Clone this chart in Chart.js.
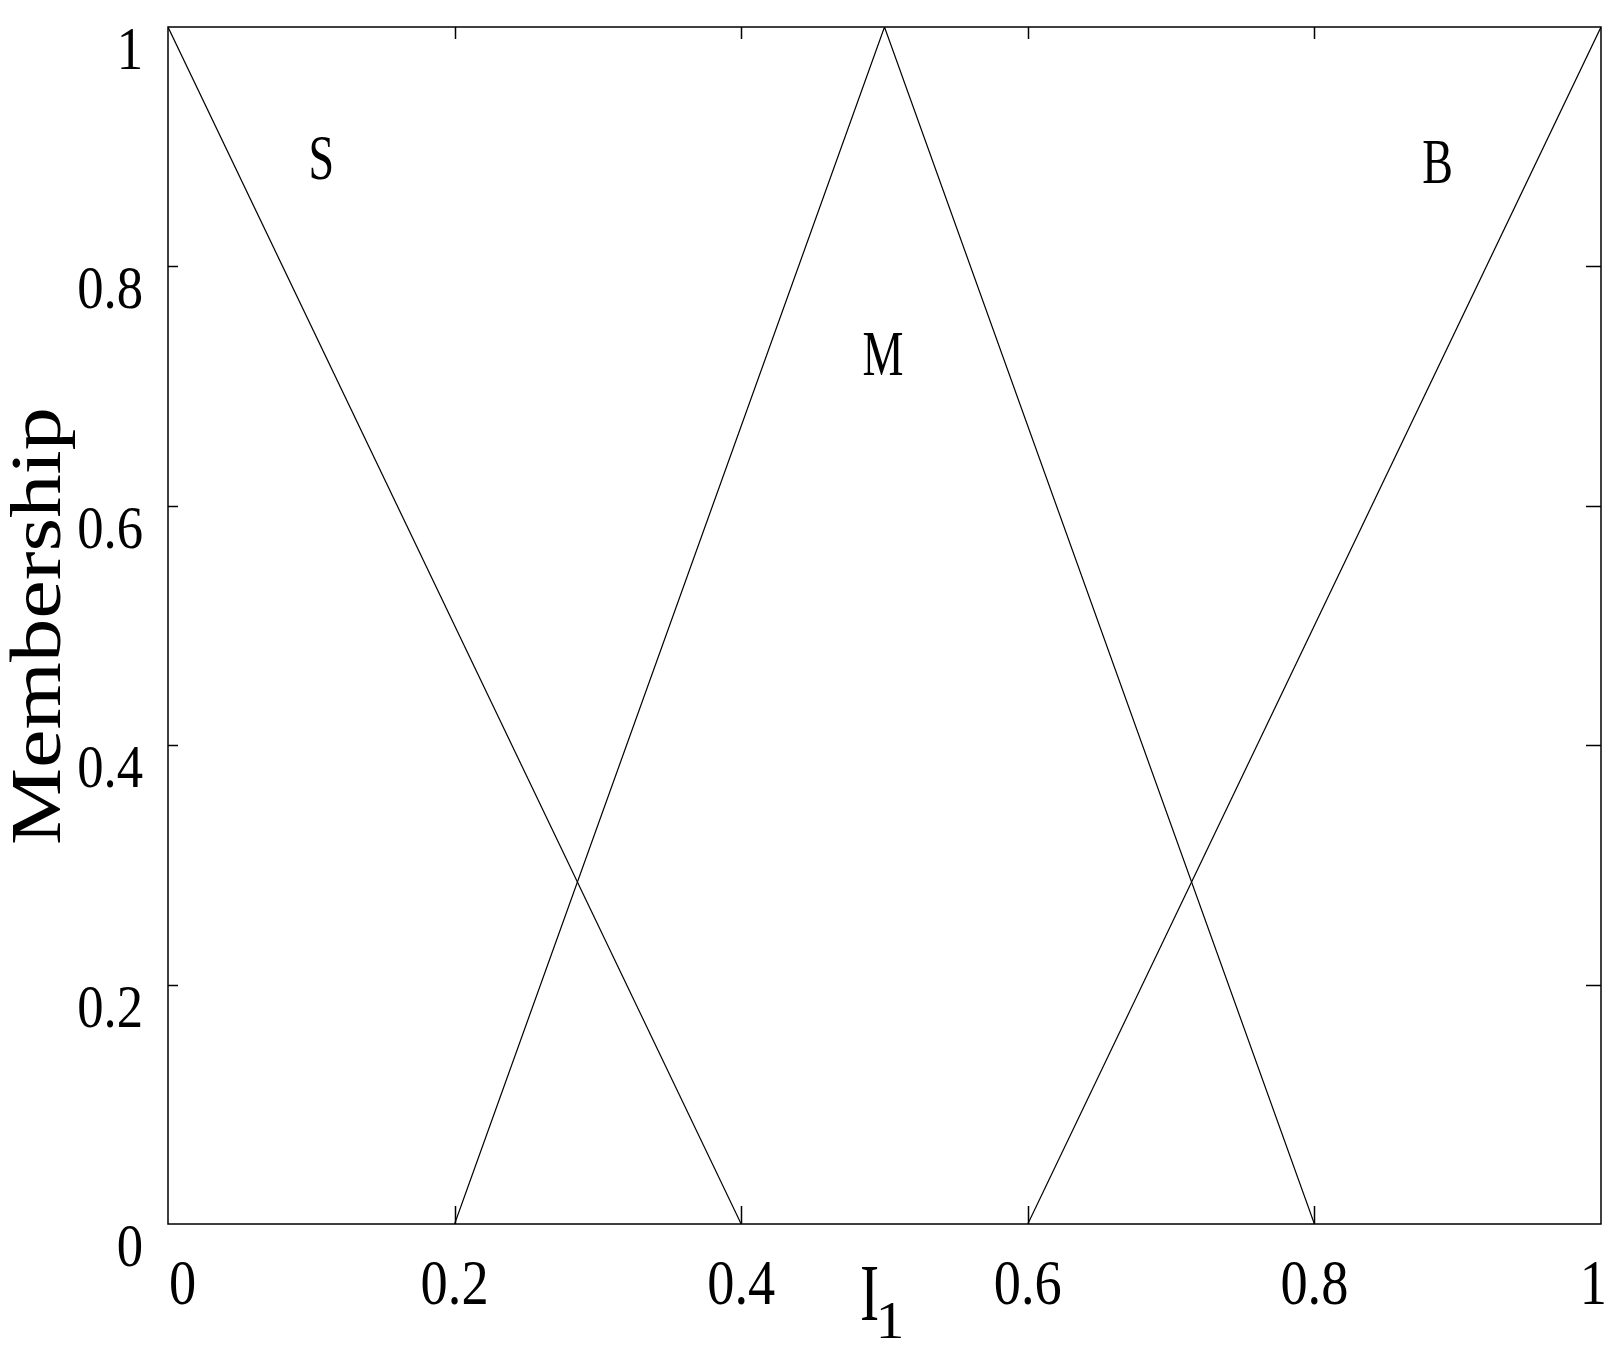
<!DOCTYPE html>
<html>
<head>
<meta charset="utf-8">
<script src="https://cdn.jsdelivr.net/npm/chart.js@4.4.1/dist/chart.umd.min.js"></script>
<style>
    html, body { margin: 0; padding: 0; background: #fff; }
    #grafico { display: block; }
</style>
</head>
<body>
<canvas id="grafico" width="1618" height="1361"></canvas>
<script>
var xTicks = [0, 0.2, 0.4, 0.6, 0.8, 1];
var yTicks = [0, 0.2, 0.4, 0.6, 0.8, 1];
var xTickLabels = ['0', '0.2', '0.4', '0.6', '0.8', '1'];
var yTickLabels = ['0', '0.2', '0.4', '0.6', '0.8', '1'];

// membership functions (triangles)
var smallX = [0, 0.4];
var smallY = [1, 0];
var mediumX = [0.2, 0.5, 0.8];
var mediumY = [0, 1, 0];
var bigX = [0.6, 1];
var bigY = [0, 1];

var setNames = ['S', 'M', 'B'];
var setNameX = [0.107, 0.499, 0.886];
var setNameY = [0.873, 0.709, 0.870];

var serif = '"Liberation Serif", "Times New Roman", serif';

function pontos(xs, ys) {
    var out = [];
    for (var i = 0; i < xs.length; i++) {
        out.push({ x: xs[i], y: ys[i] });
    }
    return out;
}

function serie(xs, ys) {
    return {
        data: pontos(xs, ys),
        showLine: true,
        borderColor: '#000',
        borderWidth: 1.2,
        pointRadius: 0,
        tension: 0,
        fill: false
    };
}

// text in the picture is condensed horizontally, so draw it with a scale
function texto(ctx, str, x, y, size, sx, align) {
    ctx.save();
    ctx.translate(x, y);
    ctx.scale(sx, 1);
    ctx.font = size + 'px ' + serif;
    ctx.fillStyle = '#000';
    ctx.textAlign = align;
    ctx.textBaseline = 'alphabetic';
    ctx.fillText(str, 0, 0);
    ctx.restore();
}

var molduraPlugin = {
    id: 'moldura',
    afterDatasetsDraw: function (chart) {
        var ctx = chart.ctx;
        var a = chart.chartArea;
        var xs = chart.scales.x;
        var ys = chart.scales.y;
        var i, px, py;

        // frame
        ctx.save();
        ctx.strokeStyle = '#000';
        ctx.lineWidth = 1.5;
        ctx.strokeRect(a.left, a.top, a.right - a.left, a.bottom - a.top);

        // inward ticks
        ctx.beginPath();
        for (i = 1; i < xTicks.length - 1; i++) {
            px = Math.round(xs.getPixelForValue(xTicks[i])) + 0.5;
            ctx.moveTo(px, a.bottom); ctx.lineTo(px, a.bottom - 18);
            ctx.moveTo(px, a.top); ctx.lineTo(px, a.top + 12);
        }
        for (i = 1; i < yTicks.length - 1; i++) {
            py = Math.round(ys.getPixelForValue(yTicks[i])) + 0.5;
            ctx.moveTo(a.left, py); ctx.lineTo(a.left + 10, py);
            ctx.moveTo(a.right, py); ctx.lineTo(a.right - 15, py);
        }
        ctx.stroke();
        ctx.restore();

        // x tick labels
        for (i = 0; i < xTicks.length; i++) {
            px = xs.getPixelForValue(xTicks[i]);
            if (i == 0) {
                texto(ctx, xTickLabels[i], a.left + 1, 1304, 64, 0.85, 'left');
            } else if (i == xTicks.length - 1) {
                texto(ctx, xTickLabels[i], a.right + 6, 1304, 64, 0.85, 'right');
            } else {
                texto(ctx, xTickLabels[i], px, 1304, 64, 0.85, 'center');
            }
        }

        // y tick labels (top of the digits sits on the tick)
        for (i = 0; i < yTicks.length; i++) {
            py = ys.getPixelForValue(yTicks[i]);
            texto(ctx, yTickLabels[i], 143, py + 42, 62, 0.85, 'right');
        }

        // set names
        for (i = 0; i < setNames.length; i++) {
            texto(ctx, setNames[i], xs.getPixelForValue(setNameX[i]), ys.getPixelForValue(setNameY[i]), 64, 0.72, 'center');
        }

        // axis titles
        ctx.save();
        ctx.translate(60, 626);
        ctx.rotate(-Math.PI / 2);
        ctx.scale(1.22, 1);
        ctx.font = '71px ' + serif;
        ctx.fillStyle = '#000';
        ctx.textAlign = 'center';
        ctx.textBaseline = 'alphabetic';
        ctx.fillText('Membership', 0, 0);
        ctx.restore();

        texto(ctx, 'I', 860, 1320, 80, 0.72, 'left');
        texto(ctx, '1', 890, 1338, 52, 1.1, 'center');
    }
};

new Chart(document.getElementById('grafico'), {
    type: 'scatter',
    data: {
        datasets: [
            serie(smallX, smallY),
            serie(mediumX, mediumY),
            serie(bigX, bigY)
        ]
    },
    options: {
        responsive: false,
        animation: false,
        devicePixelRatio: 1,
        layout: {
            padding: { left: 168, top: 27, right: 17, bottom: 137 }
        },
        plugins: {
            legend: { display: false },
            tooltip: { enabled: false }
        },
        scales: {
            x: {
                type: 'linear',
                min: 0,
                max: 1,
                grid: { display: false, drawTicks: false },
                border: { display: false },
                ticks: { display: false },
                afterFit: function (s) { s.height = 0; }
            },
            y: {
                type: 'linear',
                min: 0,
                max: 1,
                grid: { display: false, drawTicks: false },
                border: { display: false },
                ticks: { display: false },
                afterFit: function (s) { s.width = 0; }
            }
        }
    },
    plugins: [molduraPlugin]
});
</script>
</body>
</html>
